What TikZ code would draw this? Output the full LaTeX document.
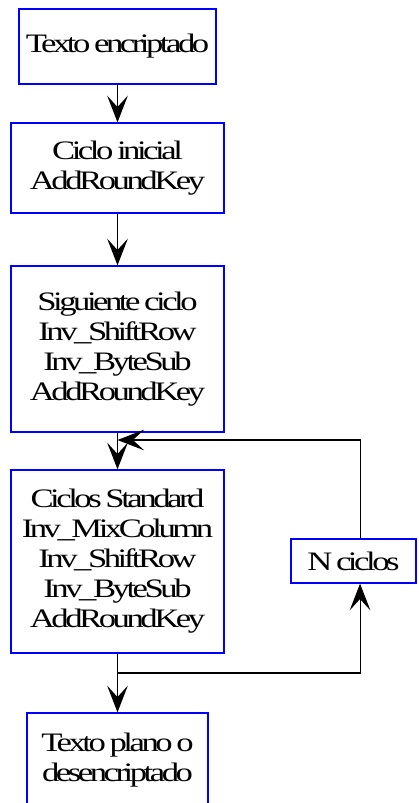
\documentclass[tikz,border=0pt]{standalone}
\usepackage{fontspec}
\setmainfont{Liberation Serif}[FakeStretch=1.3,LetterSpace=-13,WordSpace=0.7]
\usetikzlibrary{arrows.meta}

\begin{document}
\begin{tikzpicture}[x=0.75pt,y=-0.75pt,
    paso/.style={draw=blue,line width=1pt,fill=white,align=center,inner sep=0pt,
      font=\fontsize{20}{22.5}\selectfont},
    flecha/.style={-{Stealth[length=20pt,width=15.5pt,inset=8.5pt]},line width=1.1pt}]
  \useasboundingbox (0,0) rectangle (418,803);

  % bloques del descifrado
  \node [paso,minimum width=147.75pt,minimum height=56.25pt] (cifrado) at (117.5,46.5) {Texto encriptado};
  \node [paso,minimum width=159.75pt,minimum height=67.5pt] (inicial) at (117.5,168) {Ciclo inicial\\AddRoundKey};
  \node [paso,minimum width=159.75pt,minimum height=124.5pt] (siguiente) at (117.5,349) {Siguiente ciclo\\Inv\_ShiftRow\\Inv\_ByteSub\\AddRoundKey};
  \node [paso,minimum width=159.75pt,minimum height=137.25pt] (estandar) at (117.5,561.5) {Ciclos Standard\\Inv\_MixColumn\\Inv\_ShiftRow\\Inv\_ByteSub\\AddRoundKey};
  \node [paso,minimum width=93.75pt,minimum height=33pt] (nciclos) at (353.5,561) {N ciclos};
  \node [paso,minimum width=135.75pt,minimum height=71.25pt] (plano) at (117.5,760.5) {Texto plano o\\desencriptado};

  \coordinate (vuelta) at (117.5,440);
  \coordinate (salida) at (117.5,673);

  \draw [flecha] (cifrado) -- (inicial);
  \draw [flecha] (inicial) -- (siguiente);
  \draw [flecha] (siguiente) -- (estandar);
  \draw [flecha] (estandar) -- (plano);
  % lazo de los N ciclos
  \draw [flecha,line width=0.8pt] (salida) -| ([xshift=4.9pt]nciclos.south);
  \draw [flecha,line width=0.8pt] ([xshift=4.9pt]nciclos.north) |- (vuelta);
\end{tikzpicture}
\end{document}
